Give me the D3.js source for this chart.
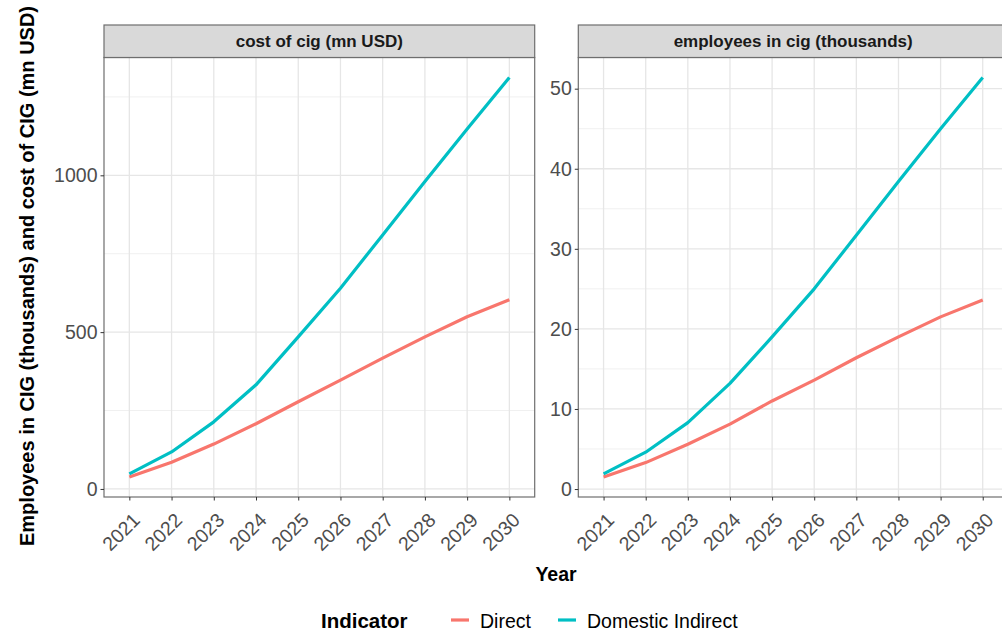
<!DOCTYPE html>
<html>
<head>
<meta charset="utf-8">
<script src="https://cdn.jsdelivr.net/npm/d3@7"></script>
<style>
  html, body { margin: 0; padding: 0; background: #fff; }
  svg { display: block; font-family: "Liberation Sans", Arial, sans-serif; }
</style>
</head>
<body>
<svg id="chart" width="1002" height="632"></svg>
<script>
// Years on the x axis (discrete)
const years = ["2021", "2022", "2023", "2024", "2025", "2026", "2027", "2028", "2029", "2030"];

// Facet titles
const facets = ["cost of cig (mn USD)", "employees in cig (thousands)"];

// Series names and colours
const indicators = ["Direct", "Domestic Indirect"];
const colors = ["#F8766D", "#00BFC4"];

// Cost of CIG (mn USD)
const costDirect = [38, 85, 143, 208, 278, 347, 417, 485, 549, 603];
const costIndirect = [48, 118, 214, 332, 485, 640, 810, 980, 1148, 1312];

// Employees in CIG (thousands)
const empDirect = [1.5, 3.3, 5.6, 8.1, 11.0, 13.6, 16.4, 19.0, 21.5, 23.6];
const empIndirect = [1.9, 4.6, 8.3, 13.2, 19.0, 25.0, 31.7, 38.4, 45.0, 51.4];

// Y ticks per facet
const costTicks = [0, 500, 1000];
const costMinor = [250, 750, 1250];
const empTicks = [0, 10, 20, 30, 40, 50];
const empMinor = [5, 15, 25, 35, 45];

const panels = [
  { title: facets[0], series: [costDirect, costIndirect], ticks: costTicks, minor: costMinor, x0: 104, x1: 534.7 },
  { title: facets[1], series: [empDirect, empIndirect], ticks: empTicks, minor: empMinor, x0: 578.3, x1: 1008 }
];

const svg = d3.select("#chart");
const panelTop = 57.5, panelBottom = 497, stripTop = 25;
const tickColor = "#4d4d4d";
const fontSize = 19.5;

panels.forEach(p => {
  const all = p.series.flat();
  const mn = d3.min(all), mx = d3.max(all), r = mx - mn;
  const y = d3.scaleLinear().domain([mn - 0.05 * r, mx + 0.05 * r]).range([panelBottom, panelTop]);
  const x = d3.scalePoint().domain(years).range([p.x0, p.x1]).padding(0.6);

  const g = svg.append("g");

  // panel background
  g.append("rect").attr("x", p.x0).attr("y", panelTop).attr("width", p.x1 - p.x0).attr("height", panelBottom - panelTop)
    .attr("fill", "#fff");

  // minor grid
  g.selectAll(".minor").data(p.minor).join("line")
    .attr("x1", p.x0).attr("x2", p.x1).attr("y1", d => y(d)).attr("y2", d => y(d))
    .attr("stroke", "#f0f0f0").attr("stroke-width", 1);

  // major grid
  g.selectAll(".hmajor").data(p.ticks).join("line")
    .attr("x1", p.x0).attr("x2", p.x1).attr("y1", d => y(d)).attr("y2", d => y(d))
    .attr("stroke", "#e6e6e6").attr("stroke-width", 1.3);
  g.selectAll(".vmajor").data(years).join("line")
    .attr("x1", d => x(d)).attr("x2", d => x(d)).attr("y1", panelTop).attr("y2", panelBottom)
    .attr("stroke", "#e6e6e6").attr("stroke-width", 1.3);

  // lines
  const line = d3.line().x((d, i) => x(years[i])).y(d => y(d));
  p.series.forEach((s, k) => {
    g.append("path").datum(s).attr("d", line)
      .attr("fill", "none").attr("stroke", colors[k]).attr("stroke-width", 3.2)
      .attr("stroke-linejoin", "round").attr("stroke-linecap", "butt");
  });

  // panel border
  g.append("rect").attr("x", p.x0).attr("y", panelTop).attr("width", p.x1 - p.x0).attr("height", panelBottom - panelTop)
    .attr("fill", "none").attr("stroke", "#6e6e6e").attr("stroke-width", 1.2);

  // strip
  g.append("rect").attr("x", p.x0).attr("y", stripTop).attr("width", p.x1 - p.x0).attr("height", panelTop - stripTop)
    .attr("fill", "#d9d9d9").attr("stroke", "#6e6e6e").attr("stroke-width", 1.2);
  g.append("text").attr("x", (p.x0 + p.x1) / 2).attr("y", (stripTop + panelTop) / 2).attr("dy", "0.36em")
    .attr("text-anchor", "middle").attr("font-size", 17).attr("font-weight", "bold")
    .attr("fill", "#1a1a1a").text(p.title);

  // y axis
  const ya = g.append("g").attr("transform", `translate(${p.x0},0)`)
    .call(d3.axisLeft(y).tickValues(p.ticks).tickSize(3.5).tickPadding(3).tickFormat(d3.format("d")));
  ya.select(".domain").remove();
  ya.selectAll(".tick line").attr("stroke", "#333");
  ya.selectAll(".tick text").attr("fill", tickColor).attr("font-size", fontSize)
    .attr("font-family", "Liberation Sans, Arial, sans-serif");

  // x axis
  const xa = g.append("g").attr("transform", `translate(0,${panelBottom})`)
    .call(d3.axisBottom(x).tickSize(3.5).tickPadding(3));
  xa.select(".domain").remove();
  xa.selectAll(".tick line").attr("stroke", "#333");
  xa.selectAll(".tick text").attr("fill", tickColor).attr("font-size", fontSize)
    .attr("font-family", "Liberation Sans, Arial, sans-serif")
    .attr("text-anchor", "end").attr("y", null)
    .attr("transform", "translate(1.5,14.5) rotate(-45)")
    .attr("dy", "0.72em");
});

// axis titles
svg.append("text").attr("transform", "translate(34,276) rotate(-90)")
  .attr("text-anchor", "middle").attr("font-size", 20).attr("font-weight", "bold")
  .attr("fill", "#000").text("Employees in CIG (thousands) and cost of CIG (mn USD)");

svg.append("text").attr("x", 556).attr("y", 581).attr("text-anchor", "middle")
  .attr("font-size", fontSize).attr("font-weight", "bold").attr("fill", "#000").text("Year");

// legend
const leg = svg.append("g");
leg.append("text").attr("x", 321).attr("y", 628).attr("font-size", 20.5).attr("font-weight", "bold")
  .attr("fill", "#000").text("Indicator");
const keyX = [451, 558];
const labX = [480, 587];
indicators.forEach((name, i) => {
  leg.append("line").attr("x1", keyX[i]).attr("x2", keyX[i] + 18).attr("y1", 620).attr("y2", 620)
    .attr("stroke", colors[i]).attr("stroke-width", 3.2);
  leg.append("text").attr("x", labX[i]).attr("y", 628).attr("font-size", fontSize)
    .attr("fill", "#000").text(name);
});
</script>
</body>
</html>
